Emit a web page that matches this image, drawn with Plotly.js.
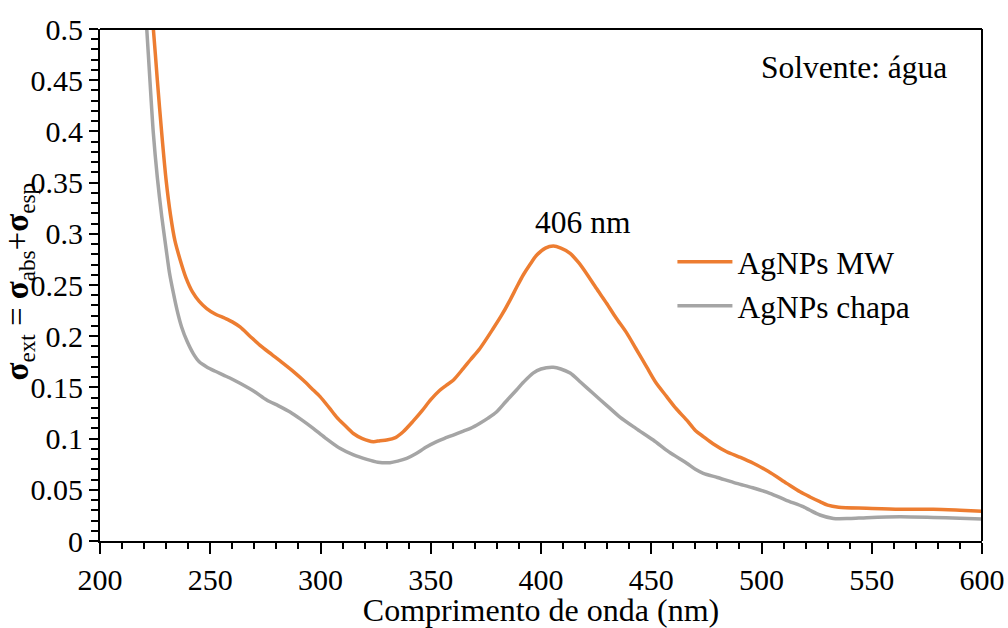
<!DOCTYPE html>
<html>
<head>
<meta charset="utf-8">
<script src="https://cdn.plot.ly/plotly-3.0.1.min.js"></script>
<style>
html,body{margin:0;padding:0;background:#fff}
#chart{width:1008px;height:628px}
</style>
</head>
<body>
<div id="chart"></div>
<script>
const seriesNames = ["AgNPs MW", "AgNPs chapa"];

const mwWavelength = [218,221,224.2,226,228,230,232,234,236.3,239,242,245,248.4,252,256.7,260,263.5,268,272.6,278,283.1,288,292.2,296,299.8,304,307.3,311,314.9,319,324,327,330,334,337.5,342,346,350,354,357,360.2,364.8,368,372.3,378.4,382,385.9,389,392,395,398,402,405.6,409,413.2,417,420.7,425,429.8,434,438.9,443,447.9,452,457,461,466.1,470,473.6,478,484.2,490,496.3,503,511.4,517.5,522,526.5,530,535,547.7,562.8,577.9,590,600];
const mwSigma = [0.66,0.57,0.50,0.45,0.398,0.352,0.318,0.293,0.275,0.257,0.243,0.234,0.227,0.222,0.2175,0.214,0.209,0.200,0.191,0.182,0.1735,0.165,0.157,0.149,0.141,0.130,0.121,0.113,0.105,0.100,0.097,0.098,0.0986,0.101,0.1067,0.117,0.127,0.138,0.147,0.152,0.157,0.1686,0.177,0.188,0.2077,0.220,0.235,0.248,0.260,0.270,0.279,0.286,0.288,0.286,0.281,0.272,0.261,0.247,0.232,0.218,0.203,0.188,0.170,0.155,0.141,0.130,0.118,0.108,0.102,0.095,0.0872,0.082,0.0759,0.068,0.0563,0.048,0.043,0.0384,0.035,0.033,0.032,0.031,0.031,0.030,0.029];

const chapaWavelength = [217,219,221.2,222.7,224.2,226,228,230,231.5,233.2,235,237,239.5,242.3,245,248.4,252,256,260,263.5,270,275.6,281,286.2,291,296.7,302,308.8,315,321,326,331.5,335,339.1,343,348.2,352.7,356,360.2,364.8,368,372.3,376,379.8,384,388.9,392,396.4,400,405.6,409,413.2,418,423.7,430,435.8,443,450.9,458,466.1,470,473.6,480,488.7,496,503.8,511,518.9,522,526.5,532.6,540,547.7,562.8,577.9,590,600];
const chapaSigma = [0.64,0.57,0.50,0.448,0.398,0.355,0.317,0.285,0.262,0.243,0.225,0.209,0.195,0.183,0.175,0.170,0.166,0.162,0.158,0.154,0.146,0.1377,0.132,0.126,0.119,0.110,0.101,0.0905,0.084,0.0797,0.077,0.0765,0.078,0.0807,0.085,0.092,0.097,0.100,0.1035,0.1074,0.110,0.115,0.120,0.126,0.136,0.1475,0.155,0.164,0.168,0.1696,0.168,0.164,0.155,0.144,0.132,0.121,0.110,0.0986,0.087,0.0759,0.070,0.0661,0.062,0.0563,0.052,0.0466,0.040,0.0335,0.030,0.0254,0.022,0.022,0.0228,0.0237,0.023,0.0222,0.0215];

const xTitle = "Comprimento de onda (nm)";
const yTitle = "<b>σ</b><sub>ext</sub> = <b>σ</b><sub>abs</sub>+<b>σ</b><sub>esp</sub>";
const peakLabel = "406 nm";
const solventLabel = "Solvente: água";

const FONT = "Liberation Serif";

const traces = [
  {x: mwWavelength, y: mwSigma, name: seriesNames[0], mode: "lines",
   line: {color: "#ED7D31", width: 3.5, shape: "spline", smoothing: 0.8}},
  {x: chapaWavelength, y: chapaSigma, name: seriesNames[1], mode: "lines",
   line: {color: "#A5A5A5", width: 3.5, shape: "spline", smoothing: 0.8}}
];

const layout = {
  width: 1008, height: 628,
  margin: {l: 100, r: 26, t: 29, b: 87},
  paper_bgcolor: "#fff", plot_bgcolor: "#fff",
  font: {family: FONT, size: 30, color: "#000"},
  showlegend: true,
  legend: {x: 0.649, xanchor: "left", y: 0.598, yanchor: "top",
           font: {family: FONT, size: 31.5, color: "#000"},
           bgcolor: "rgba(0,0,0,0)", itemwidth: 55, tracegroupgap: 0},
  xaxis: {
    range: [200, 600], dtick: 50, tick0: 200,
    showgrid: false, zeroline: false,
    showline: true, linecolor: "#000", linewidth: 2, mirror: false,
    ticks: "outside", ticklen: 11, tickwidth: 2, tickcolor: "#000",
    minor: {dtick: 10, ticks: "outside", ticklen: 6, tickwidth: 2, tickcolor: "#000", showgrid: false},
    tickfont: {family: FONT, size: 30, color: "#000"},
    title: {text: xTitle, font: {family: FONT, size: 32, color: "#000"}, standoff: 2}
  },
  yaxis: {
    range: [0, 0.5], dtick: 0.05, tick0: 0,
    showgrid: false, zeroline: false,
    showline: true, linecolor: "#000", linewidth: 2,
    ticks: "outside", ticklen: 9, tickwidth: 2, tickcolor: "#000",
    minor: {dtick: 0.01, ticks: "outside", ticklen: 7, tickwidth: 2, tickcolor: "#000", showgrid: false},
    tickfont: {family: FONT, size: 30, color: "#000"}
  },
  shapes: [
    {type: "line", xref: "paper", yref: "paper", x0: 0, x1: 1, y0: 1, y1: 1, line: {color: "#000", width: 2}},
    {type: "line", xref: "paper", yref: "paper", x0: 1, x1: 1, y0: 0, y1: 1, line: {color: "#000", width: 2}}
  ],
  annotations: [
    {text: peakLabel, xref: "x", yref: "y", x: 419, y: 0.3115, showarrow: false,
     xanchor: "center", yanchor: "middle", font: {family: FONT, size: 31.5, color: "#000"}},
    {text: solventLabel, xref: "x", yref: "y", x: 542, y: 0.462, showarrow: false,
     xanchor: "center", yanchor: "middle", font: {family: FONT, size: 31.5, color: "#000"}},
    {text: yTitle, xref: "paper", yref: "paper", x: -0.0918, y: 0.505, showarrow: false,
     textangle: -90, xanchor: "center", yanchor: "middle",
     font: {family: FONT, size: 33, color: "#000"}}
  ]
};

Plotly.newPlot("chart", traces, layout, {displayModeBar: false, staticPlot: true});
</script>
</body>
</html>
